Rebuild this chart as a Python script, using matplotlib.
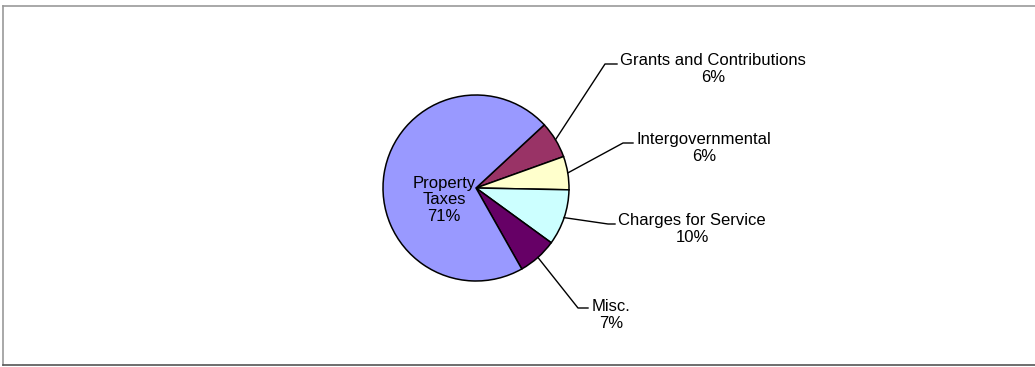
import matplotlib.pyplot as plt
import numpy as np

plt.rcParams['font.family'] = ['Liberation Sans', 'DejaVu Sans']

# Revenue sources (share of total, %)
categories = ['Grants and Contributions', 'Intergovernmental', 'Charges for Service', 'Misc.', 'Property Taxes']
shares = [6.4, 5.8, 9.7, 6.8, 71.3]
colors = ['#993366', '#FFFFCC', '#CCFFFF', '#660066', '#9999FF']

W, H = 1035, 367
fig = plt.figure(figsize=(W / 100, H / 100), dpi=100)
ax = fig.add_axes([0, 0, 1, 1])

def fy(y):
    # image row -> data y
    return H - y

cx, cy, r = 476, fy(188), 93
wedges, _ = ax.pie(shares, colors=colors, startangle=42.8, counterclock=False,
                   center=(cx, cy), radius=r, frame=True,
                   wedgeprops=dict(edgecolor='black', linewidth=1.1))
ax.set_xlim(0, W)
ax.set_ylim(0, H)
ax.set_aspect('equal')
ax.axis('off')

# label layout: (elbow x, elbow y, line end x, text center x, text center y)
layout = {
    'Grants and Contributions': (605, 64, 617, 713, 69),
    'Intergovernmental': (623, 143, 633, 704, 148),
    'Charges for Service': (608, 224, 615, 692, 229),
    'Misc.': (578, 308, 588, 611, 315),
}

for w, name, val in zip(wedges, categories, shares):
    if name == 'Property Taxes':
        ax.text(444, fy(200), f'Property\nTaxes\n{val:.0f}%', ha='center', va='center',
                fontsize=12, linespacing=1.1)
        continue
    mid = np.deg2rad((w.theta1 + w.theta2) / 2)
    sx, sy = cx + r * np.cos(mid), cy + r * np.sin(mid)
    ex, ey, lx, tx, ty = layout[name]
    ax.plot([sx, ex, lx], [sy, fy(ey), fy(ey)], color='black', lw=1.0)
    ax.text(tx, fy(ty), f'{name}\n{val:.0f}%', ha='center', va='center',
            fontsize=12, linespacing=1.2)

# chart border
ax.plot([3, 3], [fy(6), fy(365)], color='#999999', lw=1.2, clip_on=False)
ax.plot([3, W], [fy(6), fy(6)], color='#999999', lw=1.2, clip_on=False)
ax.plot([3, W], [fy(365), fy(365)], color='#555555', lw=1.2, clip_on=False)

fig.savefig('out.png', dpi=100)
